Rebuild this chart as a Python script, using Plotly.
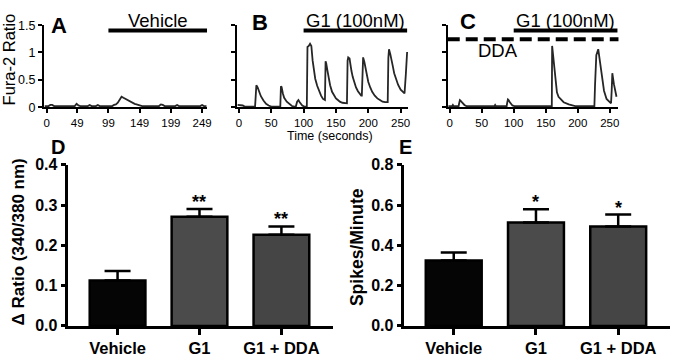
import plotly.graph_objects as go

# ---------------- data ----------------
# Panel A: Vehicle trace (time s, Fura-2 ratio)
A_time = [-3, 3, 6, 9, 12, 15, 45, 48, 51, 54, 66, 69, 72, 79, 82, 85, 105, 108, 111, 114,
          117, 120, 123, 126, 129, 132, 135, 138, 141, 144, 147, 150, 153, 180, 183, 186, 189,
          206, 209, 212, 222, 225, 228, 246, 249, 252, 256]
A_ratio = [0.02, 0.02, 0.04, 0.04, 0.02, 0.02, 0.02, 0.06, 0.03, 0.02, 0.02, 0.04, 0.02, 0.02,
           0.04, 0.02, 0.02, 0.04, 0.05, 0.08, 0.13, 0.19, 0.17, 0.15, 0.13, 0.12, 0.10, 0.08,
           0.06, 0.05, 0.04, 0.03, 0.02, 0.02, 0.05, 0.04, 0.02, 0.02, 0.04, 0.02, 0.02, 0.03,
           0.02, 0.02, 0.04, 0.02, 0.02]

# Panel B: G1 (100nM) trace
B_time = [-2, 2, 6, 9, 12, 20, 25, 26, 27, 29, 31, 34, 38, 42, 46, 50, 55, 62, 64, 65, 66, 68,
          70, 74, 78, 82, 86, 88, 90, 92, 94, 96, 98, 101, 104, 105, 106, 108, 110, 112, 114,
          116, 118, 121, 124, 127, 130, 132, 133, 134, 135, 137, 139, 141, 144, 147, 150, 153,
          156, 160, 164, 167, 168, 169, 171, 172, 174, 176, 178, 181, 184, 187, 189, 190, 191,
          192, 194, 196, 198, 200, 203, 206, 210, 214, 218, 222, 226, 229, 230, 231, 232, 234,
          236, 238, 240, 243, 246, 250, 254, 256, 258, 260]
B_ratio = [0.04, 0.04, 0.03, 0.01, 0.01, 0.01, 0.01, 0.20, 0.40, 0.36, 0.28, 0.20, 0.12, 0.06,
           0.03, 0.01, 0.01, 0.01, 0.01, 0.38, 0.37, 0.25, 0.17, 0.10, 0.05, 0.02, 0.01, 0.01,
           0.10, 0.13, 0.09, 0.06, 0.03, 0.01, 0.01, 0.01, 1.10, 1.12, 1.16, 1.12, 0.85, 0.66,
           0.52, 0.39, 0.29, 0.21, 0.15, 0.13, 0.13, 0.84, 0.80, 0.66, 0.52, 0.40, 0.28, 0.21,
           0.16, 0.13, 0.10, 0.08, 0.07, 0.07, 0.85, 0.91, 0.89, 0.80, 0.66, 0.55, 0.45, 0.36,
           0.29, 0.23, 0.21, 0.21, 0.90, 0.91, 0.82, 0.68, 0.55, 0.46, 0.36, 0.28, 0.21, 0.16,
           0.13, 0.10, 0.09, 0.09, 0.09, 0.90, 1.06, 0.97, 0.88, 0.74, 0.62, 0.50, 0.41, 0.32,
           0.26, 0.25, 0.60, 1.01]

# Panel C: DDA + G1 (100nM) trace
C_time = [-2, 2, 4, 5, 6, 8, 14, 15, 16, 17, 19, 21, 23, 26, 30, 40, 50, 60, 68, 70, 71, 72,
          74, 85, 89, 90, 91, 92, 94, 96, 98, 101, 110, 120, 128, 129, 131, 133, 134, 136, 138,
          139, 141, 150, 159.5, 160, 162.5, 165, 167.5, 170, 173, 178, 186, 196, 210, 220, 226,
          227, 229, 232, 234.5, 237, 241, 245, 250, 252, 253, 254, 256.5, 258.5, 260.5]
C_ratio = [0.02, 0.02, 0.02, 0.04, 0.02, 0.02, 0.02, 0.08, 0.13, 0.12, 0.09, 0.06, 0.04, 0.02,
           0.02, 0.02, 0.02, 0.02, 0.02, 0.02, 0.04, 0.02, 0.02, 0.02, 0.02, 0.09, 0.14, 0.13,
           0.09, 0.06, 0.03, 0.02, 0.02, 0.02, 0.02, 0.03, 0.02, 0.02, 0.03, 0.02, 0.02, 0.03,
           0.02, 0.02, 0.02, 1.12, 0.86, 0.50, 0.27, 0.19, 0.15, 0.09, 0.05, 0.02, 0.02, 0.02,
           0.02, 0.40, 0.95, 1.06, 0.83, 0.56, 0.30, 0.15, 0.08, 0.07, 0.30, 0.62, 0.42, 0.28,
           0.19]

# treatment periods (s)
A_vehicle_period = [99, 257]
B_g1_period = [100, 260]
C_g1_period = [100, 262]
C_dda_period = [-3, 268]

A_xticks = [0, 49, 99, 149, 199, 249]
BC_xticks = [0, 50, 100, 150, 200, 250]
trace_yticks = [0, 0.5, 1, 1.5]
trace_yticklabels = ["0", "0.5", "1", "1.5"]

# Panels D / E: bar summaries
categories = ["Vehicle", "G1", "G1 + DDA"]
D_ratio_mean = [0.113, 0.271, 0.226]
D_ratio_sem = [0.023, 0.019, 0.021]
D_sig = ["", "**", "**"]
E_spikes_mean = [0.325, 0.513, 0.493]
E_spikes_sem = [0.040, 0.066, 0.060]
E_sig = ["", "*", "*"]
D_yticks = [0, 0.1, 0.2, 0.3, 0.4]
E_yticks = [0, 0.2, 0.4, 0.6, 0.8]

# ---------------- layout helpers ----------------
W, H = 675, 363
FONT = "Liberation Sans, Arial, Helvetica, sans-serif"
TREAT_Y = 1.40
DDA_Y = 1.24


def fx(p):
    return p / W


def fy(p):
    return 1 - p / H


fig = go.Figure()
LINE_C = "#262626"

# traces A, B, C
for t, v, ax in [(A_time, A_ratio, ""), (B_time, B_ratio, "2"), (C_time, C_ratio, "3")]:
    fig.add_trace(go.Scatter(x=t, y=v, mode="lines", line=dict(color=LINE_C, width=1.8),
                             xaxis="x" + ax, yaxis="y" + ax, showlegend=False, hoverinfo="skip"))

# treatment bars
for per, ax in [(A_vehicle_period, ""), (B_g1_period, "2"), (C_g1_period, "3")]:
    fig.add_trace(go.Scatter(x=per, y=[TREAT_Y, TREAT_Y], mode="lines",
                             line=dict(color="black", width=4), xaxis="x" + ax, yaxis="y" + ax,
                             showlegend=False, hoverinfo="skip"))
fig.add_trace(go.Scatter(x=C_dda_period, y=[DDA_Y, DDA_Y], mode="lines",
                         line=dict(color="black", width=4, dash="12px,6px"),
                         xaxis="x3", yaxis="y3", showlegend=False, hoverinfo="skip"))

# bars D, E
bar_colors = ["#050505", "#4b4b4b", "#454545"]
for means, sems, ax in [(D_ratio_mean, D_ratio_sem, "4"), (E_spikes_mean, E_spikes_sem, "5")]:
    fig.add_trace(go.Bar(
        x=categories, y=means, width=0.68,
        marker=dict(color=bar_colors, line=dict(color="black", width=2.5)),
        error_y=dict(type="data", array=sems, arrayminus=[0] * len(sems), symmetric=False,
                     color="black", thickness=2.5, width=13),
        xaxis="x" + ax, yaxis="y" + ax, showlegend=False, hoverinfo="skip"))

annotations = []
# significance stars
for means, sems, sig, ax in [(D_ratio_mean, D_ratio_sem, D_sig, "4"),
                             (E_spikes_mean, E_spikes_sem, E_sig, "5")]:
    for c, m, s, txt in zip(categories, means, sems, sig):
        if txt:
            annotations.append(dict(x=c, y=m + s, xref="x" + ax, yref="y" + ax, text=txt,
                                    showarrow=False, xanchor="center", yanchor="bottom",
                                    yshift=-5,
                                    font=dict(family=FONT, size=18, color="black", weight="bold")))

# treatment labels (x in data, y in paper)
for per, ax, txt in [(A_vehicle_period, "", "Vehicle"), (B_g1_period, "2", "G1 (100nM)"),
                     (C_g1_period, "3", "G1 (100nM)")]:
    annotations.append(dict(x=(per[0] + per[1]) / 2, y=fy(13), xref="x" + ax, yref="paper",
                            text=txt, showarrow=False, xanchor="center", yanchor="middle",
                            font=dict(family=FONT, size=18.5, color="black")))
annotations.append(dict(x=75, y=1.03, xref="x3", yref="y3", text="DDA", showarrow=False,
                        xanchor="center", yanchor="middle",
                        font=dict(family=FONT, size=18.5, color="black")))

# panel letters
for txt, x, y, s in [("A", 58, 18, 22), ("B", 260, 15, 22), ("C", 470, 14, 22),
                     ("D", 57, 146, 20), ("E", 407, 146, 20)]:
    annotations.append(dict(x=fx(x), y=fy(y), xref="paper", yref="paper", text=txt,
                            showarrow=False, xanchor="center", yanchor="middle", borderpad=0,
                            font=dict(family=FONT, size=s, color="black", weight="bold")))

# axis titles
annotations.append(dict(x=fx(8), y=fy(54), xref="paper", yref="paper", text="Fura-2 Ratio",
                        textangle=-90, showarrow=False, xanchor="center", yanchor="middle",
                        font=dict(family=FONT, size=16.5, color="black")))
annotations.append(dict(x=fx(331), y=fy(134.5), xref="paper", yref="paper",
                        text="Time (seconds)", showarrow=False, xanchor="center",
                        yanchor="middle", borderpad=0,
                        font=dict(family=FONT, size=12.5, color="black")))
annotations.append(dict(x=fx(17), y=fy(245), xref="paper", yref="paper",
                        text="Δ Ratio (340/380 nm)", textangle=-90, showarrow=False,
                        xanchor="center", yanchor="middle",
                        font=dict(family=FONT, size=17, color="black", weight="bold")))
annotations.append(dict(x=fx(358), y=fy(251), xref="paper", yref="paper",
                        text="Spikes/Minute", textangle=-90, showarrow=False,
                        xanchor="center", yanchor="middle",
                        font=dict(family=FONT, size=17.5, color="black", weight="bold")))


def trace_x(dom, rng, ticks, anchor):
    return dict(domain=[fx(dom[0]), fx(dom[1])], range=rng, tickvals=ticks,
                showline=True, linecolor="black", linewidth=1.5, ticks="outside", ticklen=4,
                tickwidth=1.5, tickcolor="black", showgrid=False, zeroline=False,
                tickfont=dict(family=FONT, size=11.5, color="black"), anchor=anchor)


def trace_y(dom, anchor, labels):
    return dict(domain=[fy(dom[1]), fy(dom[0])], range=[0, 1.5], tickvals=trace_yticks,
                ticktext=trace_yticklabels, showticklabels=labels,
                showline=True, linecolor="black", linewidth=1.5, ticks="outside", ticklen=4,
                tickwidth=1.5, tickcolor="black", showgrid=False, zeroline=False,
                tickfont=dict(family=FONT, size=12.5, color="black"), anchor=anchor)


def bar_x(dom, anchor):
    return dict(domain=[fx(dom[0]), fx(dom[1])], type="category", range=[-0.6, 2.63],
                showline=True, linecolor="black", linewidth=2.5, ticks="outside", ticklen=6,
                tickwidth=2.5, tickcolor="black", showgrid=False, zeroline=False,
                tickfont=dict(family=FONT, size=16.5, color="black", weight="bold"),
                anchor=anchor)


def bar_y(dom, anchor, ticks, rng):
    return dict(domain=[fy(dom[1]), fy(dom[0])], range=rng, tickvals=ticks, tickformat=".1f",
                showline=True, linecolor="black", linewidth=2.5, ticks="outside", ticklen=5,
                tickwidth=2.5, tickcolor="black", showgrid=False, zeroline=False,
                tickfont=dict(family=FONT, size=16, color="black", weight="bold"),
                anchor=anchor)


fig.update_layout(
    width=W, height=H, margin=dict(l=0, r=0, t=0, b=0),
    paper_bgcolor="white", plot_bgcolor="white",
    font=dict(family=FONT, color="black"),
    showlegend=False, bargap=0.3,
    xaxis=trace_x((42, 207), [-4.76, 257.1], A_xticks, "y"),
    yaxis=trace_y((18, 104), "x", True),
    xaxis2=trace_x((237, 410), [-3.06, 261.9], BC_xticks, "y2"),
    yaxis2=trace_y((18, 104), "x2", False),
    xaxis3=trace_x((450, 622), [-2.6, 263.6], BC_xticks, "y3"),
    yaxis3=trace_y((18, 104), "x3", False),
    xaxis4=bar_x((67, 334), "y4"),
    yaxis4=bar_y((164.5, 333.5), "x4", D_yticks, [0, 0.4]),
    xaxis5=bar_x((406, 674), "y5"),
    yaxis5=bar_y((164.5, 333.5), "x5", E_yticks, [0, 0.8]),
    annotations=annotations,
)

fig.write_html("out.html", config={"displayModeBar": False},
               post_script="document.body.style.margin='0px';document.body.style.overflow='hidden';")
